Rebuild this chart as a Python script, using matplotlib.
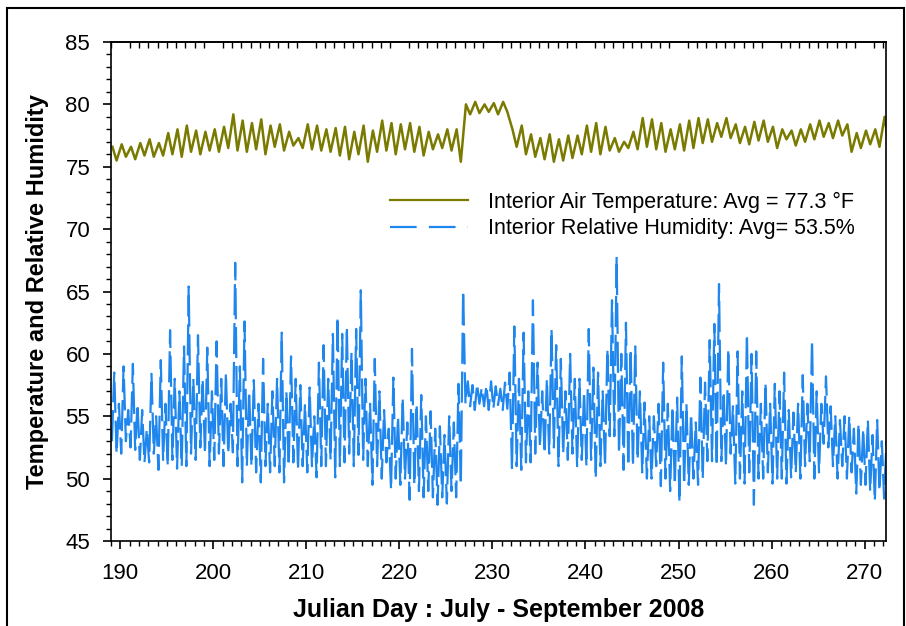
import numpy as np
import matplotlib
matplotlib.use('Agg')
import matplotlib.pyplot as plt
from matplotlib.ticker import MultipleLocator
from matplotlib.patches import Rectangle
from matplotlib.lines import Line2D

# Julian days covered by the record (July - September 2008)
days = np.arange(189, 273)

# interior air temperature, daily high / low (deg F)
temp_hi = [76.6, 76.8, 76.6, 76.9, 77.2, 76.9, 77.7, 78.0, 78.3, 77.9,
           77.8, 78.0, 78.2, 79.2, 78.7, 78.5, 78.8, 78.3, 78.4, 77.8,
           77.3, 78.4, 78.3, 78.0, 78.1, 78.2, 77.8, 78.3, 77.9, 78.7,
           78.5, 78.4, 78.5, 78.2, 77.8, 77.6, 78.0, 78.0, 80.0, 80.2,
           80.0, 80.1, 80.2, 78.0, 78.3, 77.6, 77.3, 77.6, 77.2, 77.5,
           77.5, 78.3, 78.5, 78.2, 77.3, 77.0, 77.8, 78.9, 78.8, 78.5,
           78.0, 78.4, 78.7, 78.9, 78.8, 78.5, 78.9, 78.4, 78.2, 78.6,
           78.7, 78.2, 78.0, 77.9, 78.0, 78.4, 78.7, 78.5, 78.7, 78.4,
           77.7, 77.9, 78.0, 79.0]
temp_lo = [75.5, 75.8, 75.6, 75.9, 75.8, 75.9, 76.0, 75.8, 76.2, 76.0,
           76.3, 76.2, 76.5, 76.3, 76.2, 76.4, 76.0, 76.6, 76.3, 76.7,
           76.5, 76.4, 76.3, 76.2, 75.9, 75.6, 76.0, 75.4, 76.2, 76.3,
           76.0, 76.4, 76.2, 75.9, 76.4, 76.5, 76.3, 75.4, 79.2, 79.3,
           79.4, 79.2, 79.4, 76.6, 76.0, 75.8, 75.6, 75.4, 75.5, 75.7,
           76.0, 76.2, 76.0, 76.3, 76.2, 76.5, 76.4, 76.6, 76.4, 76.2,
           76.4, 76.3, 76.5, 76.9, 77.0, 77.4, 77.3, 76.9, 76.8, 77.1,
           77.0, 76.5, 77.2, 76.7, 77.0, 77.2, 77.4, 77.3, 77.5, 76.2,
           76.5, 76.8, 76.6, 76.7]

# interior relative humidity (%), two lows / two highs per day
rh_lo1 = [53.0, 52.0, 52.5, 51.5, 51.3, 50.7, 51.0, 50.8, 51.0, 51.5,
          52.0, 51.5, 51.0, 52.1, 49.7, 51.0, 49.7, 50.5, 50.5, 51.0,
          50.7, 50.5, 50.1, 51.0, 50.1, 51.3, 51.0, 51.5, 49.5, 50.0,
          49.1, 49.5, 48.3, 49.0, 49.0, 47.9, 48.0, 48.5, 56.0, 55.5,
          55.8, 55.6, 55.5, 50.7, 50.7, 51.3, 52.5, 52.0, 51.0, 51.5,
          51.0, 51.0, 50.0, 51.0, 53.4, 50.7, 51.0, 50.5, 50.0, 49.4,
          49.0, 48.1, 49.5, 49.5, 51.4, 51.0, 51.0, 49.6, 49.6, 47.9,
          50.0, 49.6, 50.0, 50.1, 50.0, 51.4, 50.5, 52.5, 50.0, 50.0,
          48.8, 49.5, 48.2, 48.4]
rh_hi1 = [58.5, 59.0, 59.2, 55.5, 58.4, 59.5, 61.9, 57.0, 65.4, 61.5,
          60.5, 61.0, 58.5, 67.3, 62.6, 57.9, 59.6, 57.0, 61.7, 59.8,
          57.5, 57.3, 59.3, 58.0, 63.0, 62.2, 62.0, 58.0, 59.6, 55.5,
          58.1, 56.5, 60.4, 56.7, 55.4, 54.2, 55.0, 57.6, 57.8, 57.6,
          57.5, 57.4, 57.7, 62.2, 61.7, 64.3, 57.0, 62.0, 59.6, 60.0,
          58.0, 62.0, 58.5, 60.4, 67.8, 62.5, 60.6, 56.1, 55.0, 59.3,
          55.8, 59.8, 55.2, 58.1, 61.1, 65.6, 60.4, 60.2, 61.6, 60.2,
          57.7, 57.6, 58.5, 55.3, 58.3, 61.1, 56.0, 55.8, 54.7, 55.0,
          54.4, 54.7, 54.7, 53.0]
rh_lo2 = [52.0, 53.0, 52.3, 51.3, 52.0, 51.5, 51.5, 51.0, 52.0, 52.5,
          51.0, 52.0, 52.0, 51.0, 51.0, 50.5, 51.0, 51.0, 49.7, 51.3,
          51.0, 51.0, 51.0, 51.5, 51.0, 52.0, 51.9, 51.0, 51.0, 51.3,
          50.0, 50.0, 49.5, 48.5, 48.5, 48.5, 49.0, 49.5, 55.8, 56.0,
          55.5, 55.9, 55.6, 51.0, 51.3, 52.0, 52.0, 52.5, 52.0, 52.0,
          51.5, 51.5, 51.0, 53.4, 52.0, 51.0, 51.5, 50.0, 51.0, 50.0,
          49.5, 49.5, 50.0, 50.0, 51.4, 51.4, 52.0, 50.0, 50.5, 50.0,
          50.5, 50.0, 49.6, 50.5, 51.0, 50.0, 52.8, 51.0, 51.0, 50.5,
          49.5, 49.0, 49.0, 49.5]
rh_hi2 = [56.0, 55.5, 56.0, 54.0, 55.0, 56.0, 58.0, 60.6, 58.0, 58.0,
          57.0, 58.0, 56.0, 59.0, 57.0, 56.0, 56.0, 58.0, 57.0, 58.0,
          56.0, 55.0, 60.7, 61.6, 61.6, 60.1, 65.1, 56.0, 57.0, 54.0,
          55.0, 54.5, 56.0, 55.0, 54.0, 53.5, 54.5, 65.1, 57.5, 57.3,
          57.8, 57.2, 58.5, 58.0, 57.0, 59.3, 58.0, 60.7, 57.0, 58.0,
          57.0, 58.9, 57.0, 64.3, 60.0, 60.4, 57.0, 55.0, 56.0, 56.0,
          56.5, 56.0, 54.5, 57.7, 62.4, 57.0, 55.8, 57.0, 60.0, 56.0,
          56.0, 57.0, 55.5, 56.0, 56.0, 57.0, 58.2, 55.0, 55.0, 54.0,
          54.0, 53.5, 53.0, 52.5]

temp_label = 'Interior Air Temperature: Avg = 77.3 °F'
rh_label = 'Interior Relative Humidity: Avg= 53.5%'

temp_color = '#7a7a00'
rh_color = '#1f86ee'

# spread the daily readings over the day
t_temp = np.column_stack([days + 0.15, days + 0.6]).ravel()
temp = np.column_stack([temp_hi, temp_lo]).ravel()
t_rh = np.column_stack([days + 0.1, days + 0.35, days + 0.6, days + 0.85]).ravel()
rh = np.column_stack([rh_lo1, rh_hi1, rh_lo2, rh_hi2]).ravel()

narrow = ['Liberation Sans Narrow', 'Liberation Sans', 'DejaVu Sans']
plt.rcParams['font.family'] = ['Liberation Sans', 'DejaVu Sans']

fig = plt.figure(figsize=(9.06, 6.26), dpi=100)
ax = fig.add_axes([111 / 906, 85 / 626, 775 / 906, 499 / 626])

ax.plot(t_temp, temp, color=temp_color, lw=1.8)
ax.plot(t_rh, rh, color=rh_color, lw=1.6, linestyle=(0, (14, 3.5)))

ax.set_xlim(189.0, 272.3)
ax.set_ylim(45, 85)
ax.xaxis.set_major_locator(MultipleLocator(10))
ax.xaxis.set_minor_locator(MultipleLocator(1))
ax.yaxis.set_major_locator(MultipleLocator(5))
ax.yaxis.set_minor_locator(MultipleLocator(1))
ax.tick_params(which='major', direction='out', length=6, width=1.2, labelsize=16)
ax.tick_params(axis='x', which='major', pad=10)
ax.tick_params(axis='y', which='major', pad=9)
ax.tick_params(which='minor', direction='out', length=3.5, width=1.0)
for lab in ax.get_xticklabels() + ax.get_yticklabels():
    lab.set_family(narrow)

# inward minor ticks along the top edge
top = ax.secondary_xaxis('top')
top.xaxis.set_major_locator(MultipleLocator(10))
top.xaxis.set_minor_locator(MultipleLocator(1))
top.tick_params(which='major', length=0, labeltop=False)
top.tick_params(which='minor', direction='in', length=4, width=1.0)
top.spines['top'].set_linewidth(1.2)

for s in ax.spines.values():
    s.set_linewidth(1.2)

ax.set_xlabel('Julian Day : July - September 2008', fontsize=18, fontweight='bold', labelpad=10)
ax.set_ylabel('Temperature and Relative Humidity', fontsize=17, fontweight='bold', labelpad=12)

handles = [Line2D([], [], color=temp_color, lw=1.6),
           Line2D([], [], color=rh_color, lw=1.6, linestyle=(0, (12, 5.5)))]
ax.legend(handles, [temp_label, rh_label], loc='upper left', bbox_to_anchor=(0.36, 0.70),
          frameon=False, fontsize=15.5, handlelength=3.6, handletextpad=0.93,
          labelspacing=0.25, borderpad=0, borderaxespad=0)

# outer frame around the figure
fig.patches.append(Rectangle((7 / 906, -0.05), 897 / 906, 1.05 - 8 / 626, transform=fig.transFigure,
                             fill=False, edgecolor='black', lw=1.5))

fig.savefig('out.png', dpi=100)
